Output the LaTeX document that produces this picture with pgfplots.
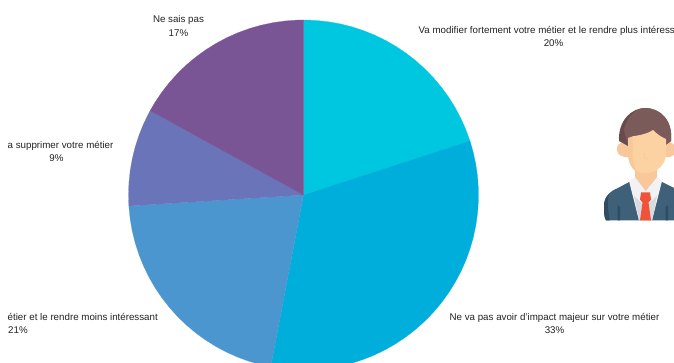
\documentclass[border=0pt]{standalone}
\usepackage{pgfplots}
\pgfplotsset{compat=1.18}
\usepackage{fontspec}
\setmainfont{Liberation Sans}
\definecolor{sliceA}{HTML}{00C7E0}
\definecolor{sliceB}{HTML}{00AEDB}
\definecolor{sliceC}{HTML}{4C96D0}
\definecolor{sliceD}{HTML}{6A74B8}
\definecolor{sliceE}{HTML}{7A5595}
\definecolor{labeltext}{HTML}{222222}
\definecolor{hair}{HTML}{7B5B59}
\definecolor{hairdark}{HTML}{694B4B}
\definecolor{skin}{HTML}{FDD2A2}
\definecolor{skindark}{HTML}{F8C89A}
\definecolor{suit}{HTML}{3F6079}
\definecolor{suitdark}{HTML}{304C62}
\definecolor{shirt}{HTML}{F2F2F4}
\definecolor{shirtshade}{HTML}{D9DAE0}
\definecolor{tie}{HTML}{F0533A}
\begin{document}
\begin{tikzpicture}[
  lab/.style={font=\fontsize{9.75}{12}\selectfont, text=labeltext, anchor=base, inner sep=0pt},
  labl/.style={lab, anchor=base west}]
\useasboundingbox (0,0) rectangle (674pt,363pt);
\clip (0,0) rectangle (674pt,363pt);
\begin{axis}[
  anchor=south west, at={(0,0)},
  width=674pt, height=363pt, scale only axis, hide axis,
  xmin=-303.5, xmax=370.5, ymin=-168, ymax=195]
% Shares 20, 33, 21, 9 and 17 percent, clockwise from twelve o'clock (angle, radius)
\addplot[fill=sliceA, draw=sliceA, line width=0.2pt, data cs=polar] coordinates {
  (0,0) (90,175) (86,175) (82,175) (78,175) (74,175) (70,175) (66,175) (62,175) (58,175) (54,175)
  (50,175) (46,175) (42,175) (38,175) (34,175) (30,175) (26,175) (22,175) (18,175)} --cycle;
\addplot[fill=sliceB, draw=sliceB, line width=0.2pt, data cs=polar] coordinates {
  (0,0) (18,175) (14,175) (10,175) (6,175) (2,175) (-2,175) (-6,175) (-10,175) (-14,175) (-18,175)
  (-22,175) (-26,175) (-30,175) (-34,175) (-38,175) (-42,175) (-46,175) (-50,175) (-54,175) (-58,175)
  (-62,175) (-66,175) (-70,175) (-74,175) (-78,175) (-82,175) (-86,175) (-90,175) (-94,175) (-98,175)
  (-100.8,175)} --cycle;
\addplot[fill=sliceC, draw=sliceC, line width=0.2pt, data cs=polar] coordinates {
  (0,0) (-100.8,175) (-104,175) (-108,175) (-112,175) (-116,175) (-120,175) (-124,175) (-128,175)
  (-132,175) (-136,175) (-140,175) (-144,175) (-148,175) (-152,175) (-156,175) (-160,175) (-164,175)
  (-168,175) (-172,175) (-176,175) (-176.4,175)} --cycle;
\addplot[fill=sliceD, draw=sliceD, line width=0.2pt, data cs=polar] coordinates {
  (0,0) (-176.4,175) (-180,175) (-184,175) (-188,175) (-192,175) (-196,175) (-200,175) (-204,175)
  (-208,175) (-208.8,175)} --cycle;
\addplot[fill=sliceE, draw=sliceE, line width=0.2pt, data cs=polar] coordinates {
  (0,0) (-208.8,175) (-212,175) (-216,175) (-220,175) (-224,175) (-228,175) (-232,175) (-236,175) (-240,175)
  (-244,175) (-248,175) (-252,175) (-256,175) (-260,175) (-264,175) (-268,175) (-270,175)} --cycle;
\end{axis}
% Slice captions
\node[lab] at (178.5pt,340pt) {Ne sais pas};
\node[lab] at (178.5pt,326pt) {17\%};
\node[labl] at (418.5pt,329pt) {Va modifier fortement votre métier et le rendre plus intéress};
\node[lab] at (553.5pt,316pt) {20\%};
\node[labl] at (7.5pt,214pt) {a supprimer votre métier};
\node[lab] at (56.5pt,201pt) {9\%};
\node[labl] at (7.5pt,42pt) {étier et le rendre moins intéressant};
\node[lab] at (18pt,29pt) {21\%};
\node[lab] at (554.5pt,42pt) {Ne va pas avoir d'impact majeur sur votre métier};
\node[lab] at (554.5pt,29pt) {33\%};
% Portrait of a man in a suit
\begin{scope}[x=1pt,y=-1pt,yshift=363pt]
  \fill[suit] (606,220.5) .. controls (604,217) and (604,212) .. (604,206) .. controls (604,197) and (610,191) .. (618,188)
    -- (631,181) -- (660,181) -- (674,188) -- (680,190) -- (680,220.5) -- cycle;
  \fill[suitdark] (617.5,220.5) -- (617.5,205) -- (620,207) -- (620,220.5) -- cycle;
  \fill[suitdark] (606,220.5) .. controls (604,217) and (604,212) .. (604,206) .. controls (604,200) and (606,197) .. (609,194)
    .. controls (607,202) and (608,212) .. (610,220.5) -- cycle;
  \fill[suitdark] (665.5,220.5) -- (665.5,207) -- (668,205) -- (668,220.5) -- cycle;
  \fill[shirt] (629,181) -- (635,177) -- (657,177) -- (662,181) -- (652,220.5) -- (639,220.5) -- cycle;
  \fill[shirtshade] (634,196) -- (645.5,207) -- (657,196) -- (652,220.5) -- (639,220.5) -- cycle;
  \fill[skindark] (635,165) -- (657,165) -- (657,177) -- (645.7,191) -- (635,177) -- cycle;
  \fill[tie] (641,192.5) -- (650,192.5) -- (651,199.5) -- (648.5,202.5) -- (651,220.5) -- (640,220.5) -- (642.5,202.5) -- (640,199.5) -- cycle;
  \fill[skindark] (629,142) .. controls (620,140) and (616,146) .. (617,150) .. controls (617,155) and (623,158) .. (629,157) -- cycle;
  \fill[skindark] (665,142) .. controls (672,140) and (676,146) .. (676,150) .. controls (676,155) and (671,158) .. (665,157) -- cycle;
  \fill[hairdark] (619,141) .. controls (618,120) and (632,108) .. (645,108) .. controls (660,108) and (673,120) .. (671,141)
    -- (664,146) -- (628,146) -- cycle;
  \fill[hair] (624,130) .. controls (627,116) and (636,108) .. (645,108) .. controls (660,108) and (673,120) .. (671,141)
    -- (664,146) -- (628,146) -- cycle;
  \fill[skindark] (628,138) -- (634,136) -- (638,173) .. controls (632,170) and (628,162) .. (628,154) -- cycle;
  \fill[skin] (632.5,136.3) .. controls (642,135) and (649,133) .. (653,130) .. controls (657,134) and (661,137) .. (666,139)
    -- (666,154) .. controls (666,165) and (656,173) .. (646,173) .. controls (642,173) and (638,172.5) .. (636,170)
    .. controls (634,165) and (632.5,158) .. (632.5,150) -- cycle;
  \draw[skindark, line width=0.6pt] (644,151) -- (644.5,158) -- (648,159);
\end{scope}
\end{tikzpicture}
\end{document}
